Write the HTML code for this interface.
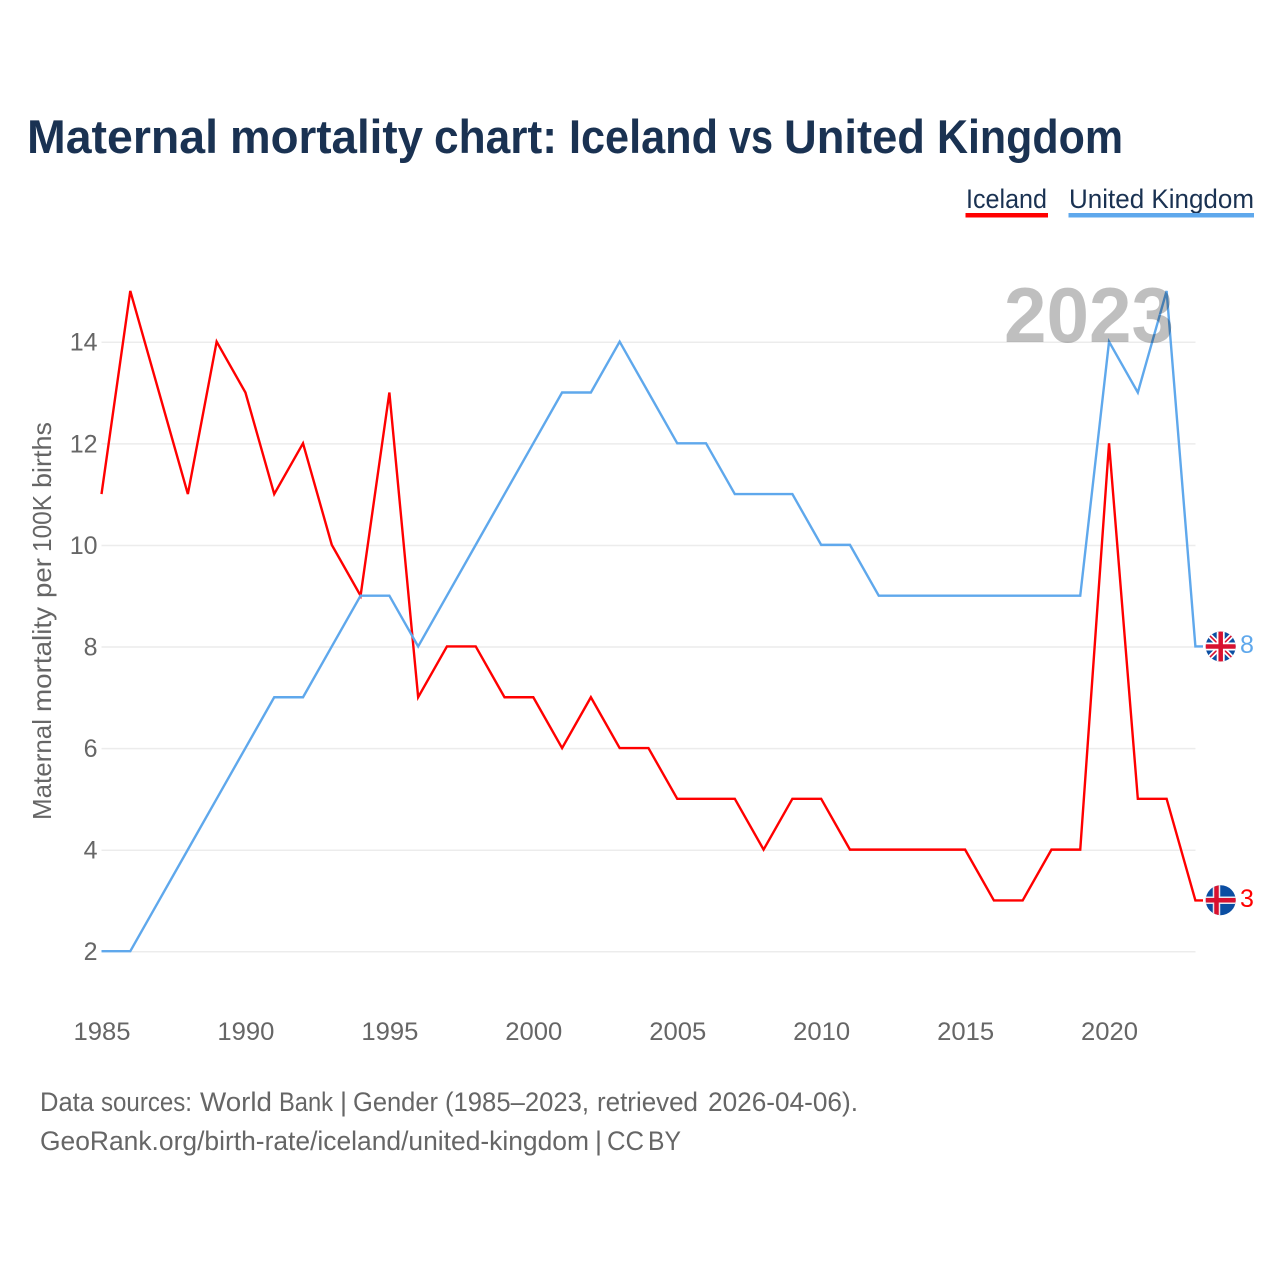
<!DOCTYPE html>
<html lang="en">
<head>
<meta charset="utf-8">
<title>Maternal mortality chart: Iceland vs United Kingdom</title>
<style>
html,body{margin:0;padding:0;background:#fff;}
svg{display:block;font-family:"Liberation Sans",sans-serif;}
</style>
</head>
<body>
<svg id="chart" width="1280" height="1280" viewBox="0 0 1280 1280" xmlns="http://www.w3.org/2000/svg">
  <defs>
    <clipPath id="clip-uk"><circle cx="1220.7" cy="646.5" r="15"/></clipPath>
    <clipPath id="clip-is"><circle cx="1220.7" cy="900.2" r="15"/></clipPath>
  </defs>
  <rect width="1280" height="1280" fill="#fff"/>
  <text y="153" font-size="47" font-weight="700" fill="#1a3252"><tspan x="27" textLength="191" lengthAdjust="spacingAndGlyphs">Maternal</tspan> <tspan x="230" textLength="193" lengthAdjust="spacingAndGlyphs">mortality</tspan> <tspan x="434" textLength="123" lengthAdjust="spacingAndGlyphs">chart:</tspan> <tspan x="569" textLength="149" lengthAdjust="spacingAndGlyphs">Iceland</tspan> <tspan x="729" textLength="44" lengthAdjust="spacingAndGlyphs">vs</tspan> <tspan x="784" textLength="141" lengthAdjust="spacingAndGlyphs">United</tspan> <tspan x="937" textLength="186" lengthAdjust="spacingAndGlyphs">Kingdom</tspan></text>

  <g>
    <text x="966" y="208" font-size="27" fill="#1a3252" textLength="81" lengthAdjust="spacingAndGlyphs">Iceland</text>
    <rect x="965.5" y="213" width="82.5" height="4.5" fill="#ff0000"/>
    <text x="1069" y="208" font-size="27" fill="#1a3252" textLength="185" lengthAdjust="spacingAndGlyphs">United Kingdom</text>
    <rect x="1068.5" y="213" width="185.5" height="4.5" fill="#5fa8ec"/>
  </g>

  <g id="grid"></g>
  <g id="yticks"></g>
  <g id="xticks"></g>
  <text transform="translate(51,820) rotate(-90)" y="0" font-size="26" fill="#666"><tspan x="0" textLength="101" lengthAdjust="spacingAndGlyphs">Maternal</tspan> <tspan x="108" textLength="105" lengthAdjust="spacingAndGlyphs">mortality</tspan> <tspan x="222" textLength="40" lengthAdjust="spacingAndGlyphs">per</tspan> <tspan x="268" textLength="57" lengthAdjust="spacingAndGlyphs">100K</tspan> <tspan x="332" textLength="66" lengthAdjust="spacingAndGlyphs">births</tspan></text>
  <g id="series"></g>

  <text x="1004" y="342" font-size="78" font-weight="700" fill="#000" fill-opacity="0.25" textLength="170" lengthAdjust="spacingAndGlyphs">2023</text>

  <g clip-path="url(#clip-uk)">
    <rect x="1205" y="631" width="32" height="32" fill="#0b4ea2"/>
    <path d="M1205 631L1236.400 662M1236.400 631L1205 662" stroke="#fff" stroke-width="5"/>
    <path d="M1205 631L1236.400 662M1236.400 631L1205 662" stroke="#d8112f" stroke-width="1.600"/>
    <path d="M1220.700 631V662M1205 646.500H1237" stroke="#fff" stroke-width="8"/>
    <path d="M1220.700 631V662M1205 646.500H1237" stroke="#d8112f" stroke-width="4.500"/>
  </g>
  <g clip-path="url(#clip-is)">
    <rect x="1205" y="885" width="32" height="32" fill="#0b4ea2"/>
    <path d="M1216.500 885V916M1205 900.200H1237" stroke="#e8e8f0" stroke-width="7.500"/>
    <path d="M1216.500 885V916M1205 900.200H1237" stroke="#d8112f" stroke-width="4.500"/>
  </g>
  <text x="1240" y="653" font-size="25" fill="#5fa8ec">8</text>
  <text x="1240" y="907" font-size="25" fill="#ff0000">3</text>

  <g>
    <text y="1111" font-size="27" fill="#666"><tspan x="40" textLength="54" lengthAdjust="spacingAndGlyphs">Data</tspan> <tspan x="101" textLength="91" lengthAdjust="spacingAndGlyphs">sources:</tspan> <tspan x="200" textLength="72" lengthAdjust="spacingAndGlyphs">World</tspan> <tspan x="279" textLength="54" lengthAdjust="spacingAndGlyphs">Bank</tspan> <tspan x="340">|</tspan> <tspan x="353" textLength="85" lengthAdjust="spacingAndGlyphs">Gender</tspan> <tspan x="445" textLength="144" lengthAdjust="spacingAndGlyphs">(1985–2023,</tspan> <tspan x="597" textLength="101" lengthAdjust="spacingAndGlyphs">retrieved</tspan> <tspan x="708" textLength="150" lengthAdjust="spacingAndGlyphs">2026-04-06).</tspan></text>
    <text y="1150" font-size="27" fill="#666"><tspan x="40" textLength="549" lengthAdjust="spacingAndGlyphs">GeoRank.org/birth-rate/iceland/united-kingdom</tspan> <tspan x="595">|</tspan> <tspan x="607" textLength="37" lengthAdjust="spacingAndGlyphs">CC</tspan> <tspan x="648" textLength="33" lengthAdjust="spacingAndGlyphs">BY</tspan></text>
  </g>
</svg>
<script>
const years = [1985,1986,1987,1988,1989,1990,1991,1992,1993,1994,1995,1996,1997,1998,1999,2000,2001,2002,2003,2004,2005,2006,2007,2008,2009,2010,2011,2012,2013,2014,2015,2016,2017,2018,2019,2020,2021,2022,2023];
const icelandValues = [11,15,13,11,14,13,11,12,10,9,13,7,8,8,7,7,6,7,6,6,5,5,5,4,5,5,4,4,4,4,4,3,3,4,4,12,5,5,3];
const ukValues = [2,2,3,4,5,6,7,7,8,9,9,8,9,10,11,12,13,13,14,13,12,12,11,11,11,10,10,9,9,9,9,9,9,9,9,14,13,15,8];
const yTickValues = [2,4,6,8,10,12,14];
const xTickYears = [1985,1990,1995,2000,2005,2010,2015,2020];

const NS = 'http://www.w3.org/2000/svg';
function xScale(year){ return 101.5 + (year - 1985) * (1195.4 - 101.5) / 38; }
function yScale(v){ return 951.2 - (v - 2) * (951.2 - 341.7) / 12; }
function make(tag, attrs, parent){
  const el = document.createElementNS(NS, tag);
  for (const k in attrs) el.setAttribute(k, attrs[k]);
  parent.appendChild(el);
  return el;
}

const grid = document.getElementById('grid');
const yticks = document.getElementById('yticks');
yTickValues.forEach(function(v){
  const line = make('line', {x1: 101.5, x2: 1195.5, y1: yScale(v) + 0.6, y2: yScale(v) + 0.6, stroke: '#ececec', 'stroke-width': 1.5}, grid);
  
  
  const label = make('text', {x: 97.5, y: yScale(v) + 9, 'font-size': 25, fill: '#666', 'text-anchor': 'end'}, yticks);
  
  
  label.textContent = v;
});

const xticks = document.getElementById('xticks');
xTickYears.forEach(function(y){
  const label = make('text', {x: xScale(y) + 0.5, y: 1040, 'font-size': 25, fill: '#666', 'text-anchor': 'middle', textLength: 57, lengthAdjust: 'spacingAndGlyphs'}, xticks);
  
  
  label.textContent = y;
});

const series = document.getElementById('series');
function drawSeries(values, color, name){
  const pts = values.map(function(v, i){ return xScale(years[i]).toFixed(2) + ',' + yScale(v).toFixed(2); });
  const last = values[values.length - 1];
  pts.push('1203,' + yScale(last).toFixed(2));
  const line = make('polyline', {points: pts.join(' '), fill: 'none', stroke: color, 'stroke-width': 2.4, 'stroke-linejoin': 'miter'}, series);
  
  
}
drawSeries(icelandValues, '#ff0000', 'line-iceland');
drawSeries(ukValues, '#5fa8ec', 'line-united-kingdom');
</script>
</body>
</html>
